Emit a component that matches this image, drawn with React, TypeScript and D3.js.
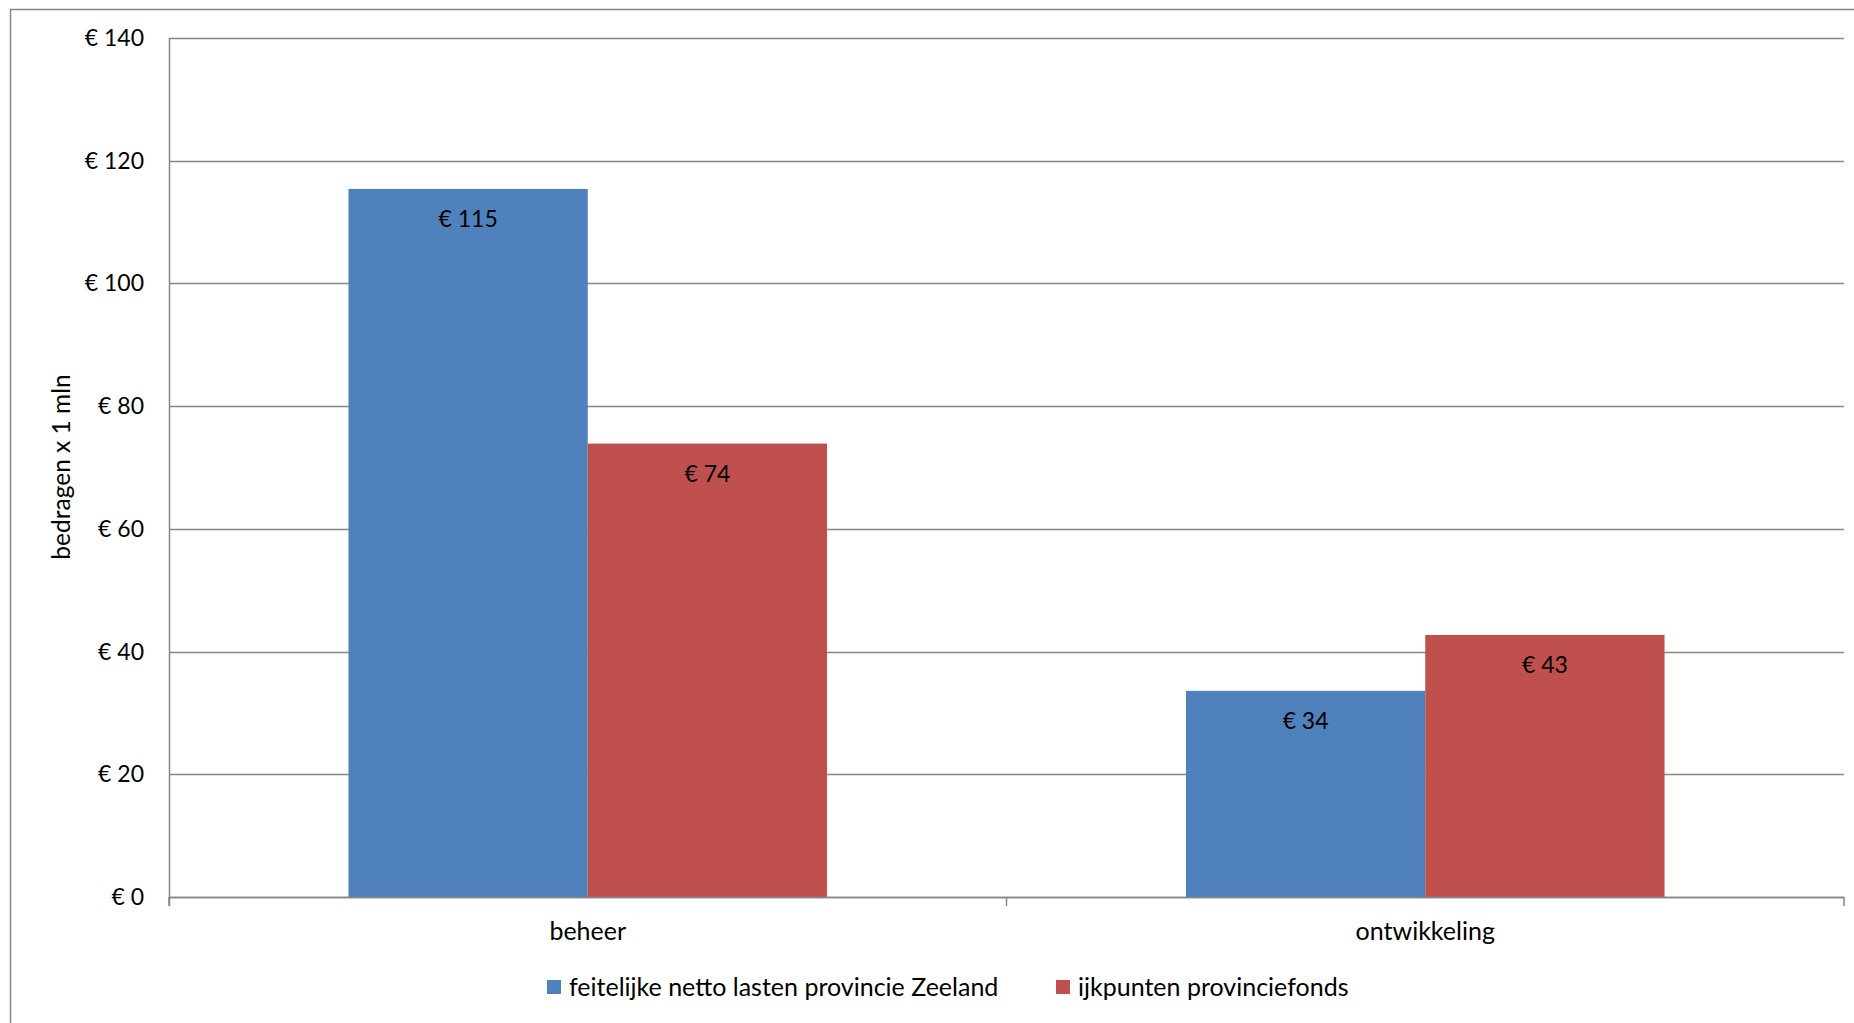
import React, { useEffect, useRef } from 'react';
import * as d3 from 'd3';

const categories = ['beheer', 'ontwikkeling'];
const seriesNames = ['feitelijke netto lasten provincie Zeeland', 'ijkpunten provinciefonds'];
const feitelijk = [115.4, 33.6];
const ijkpunten = [73.9, 42.7];
const yTicks = [0, 20, 40, 60, 80, 100, 120, 140];
const colors = ['#4F81BD', '#C0504D'];

const App: React.FC = () => {
  const ref = useRef<SVGSVGElement | null>(null);

  useEffect(() => {
    if (!ref.current) return;
    const W = 1854;
    const H = 1023;
    const margin = { top: 38, right: 10, bottom: 126, left: 169 };
    const font = 'Lato, "Open Sans", sans-serif';

    const svg = d3.select(ref.current);
    svg.selectAll('*').remove();

    // outer chart frame
    svg.append('rect')
      .attr('x', 10.5).attr('y', 9.5)
      .attr('width', W).attr('height', H)
      .attr('fill', 'none').attr('stroke', '#868686').attr('stroke-width', 1.5);

    const x0 = d3.scaleBand().domain(categories).range([margin.left, W - margin.right]);
    const y = d3.scaleLinear().domain([0, 140]).range([H - margin.bottom, margin.top]);

    // gridlines
    svg.append('g').selectAll('line')
      .data(yTicks)
      .enter().append('line')
      .attr('x1', margin.left).attr('x2', W - margin.right)
      .attr('y1', d => Math.round(y(d)) + 0.5).attr('y2', d => Math.round(y(d)) + 0.5)
      .attr('stroke', '#868686').attr('stroke-width', 1.5);

    // y labels
    svg.append('g').selectAll('text')
      .data(yTicks)
      .enter().append('text')
      .attr('x', margin.left - 25)
      .attr('y', d => y(d))
      .attr('dy', '0.35em')
      .attr('text-anchor', 'end')
      .style('font-family', font).style('font-size', '23px').style('fill', '#000')
      .text(d => `€ ${d}`);

    // bars (Excel gap width 150%)
    const bw = x0.bandwidth() / 3.5;
    const series = [feitelijk, ijkpunten];
    series.forEach((vals, s) => {
      const g = svg.append('g');
      g.selectAll('rect')
        .data(categories)
        .enter().append('rect')
        .attr('x', (c) => (x0(c) as number) + x0.bandwidth() / 2 - bw + s * bw)
        .attr('y', (c, i) => y(vals[i]))
        .attr('width', bw)
        .attr('height', (c, i) => y(0) - y(vals[i]))
        .attr('fill', colors[s]);
      g.selectAll('text')
        .data(categories)
        .enter().append('text')
        .attr('x', (c) => (x0(c) as number) + x0.bandwidth() / 2 - bw / 2 + s * bw)
        .attr('y', (c, i) => y(vals[i]) + 38)
        .attr('text-anchor', 'middle')
        .style('font-family', font).style('font-size', '23px').style('fill', '#000')
        .text((c, i) => `€ ${Math.round(vals[i])}`);
    });

    // axes lines
    svg.append('line')
      .attr('x1', margin.left + 0.5).attr('x2', margin.left + 0.5)
      .attr('y1', margin.top).attr('y2', y(0) + 9)
      .attr('stroke', '#868686').attr('stroke-width', 1.5);
    svg.append('line')
      .attr('x1', margin.left).attr('x2', W - margin.right)
      .attr('y1', Math.round(y(0)) + 0.5).attr('y2', Math.round(y(0)) + 0.5)
      .attr('stroke', '#868686').attr('stroke-width', 1.5);
    const tickXs = [...categories.map(c => x0(c) as number), W - margin.right];
    svg.append('g').selectAll('line')
      .data(tickXs)
      .enter().append('line')
      .attr('x1', d => d).attr('x2', d => d)
      .attr('y1', y(0)).attr('y2', y(0) + 9)
      .attr('stroke', '#868686').attr('stroke-width', 1.5);

    // category labels
    svg.append('g').selectAll('text')
      .data(categories)
      .enter().append('text')
      .attr('x', c => (x0(c) as number) + x0.bandwidth() / 2)
      .attr('y', 931)
      .attr('dy', '0.35em')
      .attr('text-anchor', 'middle')
      .style('font-family', font).style('font-size', '25px').style('fill', '#000')
      .text(c => c);

    // y axis title
    svg.append('text')
      .attr('transform', 'translate(61,467) rotate(-90)')
      .attr('dy', '0.35em')
      .attr('text-anchor', 'middle')
      .style('font-family', font).style('font-size', '24.5px').style('fill', '#000')
      .text('bedragen x 1 mln');

    // legend
    const legendX = [547, 1056];
    seriesNames.forEach((name, i) => {
      svg.append('rect')
        .attr('x', legendX[i]).attr('y', 980)
        .attr('width', 14).attr('height', 14)
        .attr('fill', colors[i]);
      svg.append('text')
        .attr('x', legendX[i] + 22).attr('y', 987)
        .attr('dy', '0.35em')
        .style('font-family', font).style('font-size', '25px').style('fill', '#000')
        .text(name);
    });
  }, []);

  return (
    <svg
      ref={ref}
      width={1854}
      height={1023}
      style={{ position: 'absolute', left: 0, top: 0, background: '#fff' }}
    />
  );
};

export default App;
